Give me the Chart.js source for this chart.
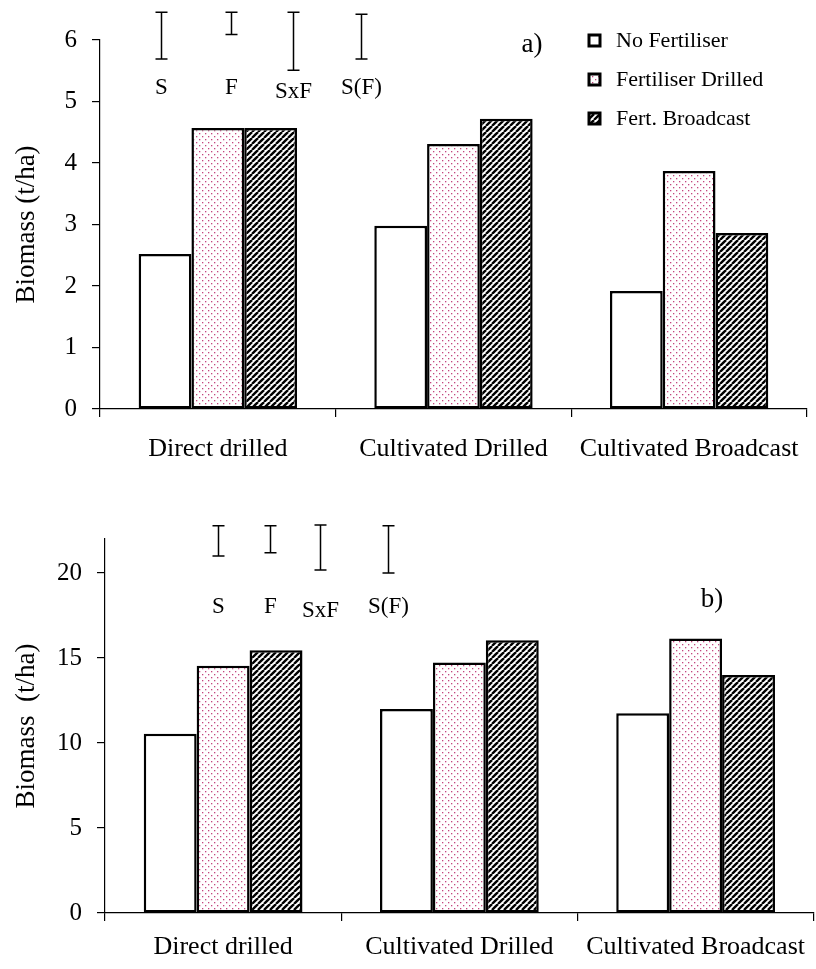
<!DOCTYPE html>
<html><head><meta charset="utf-8">
<script src="https://cdn.jsdelivr.net/npm/chart.js@4.4.1/dist/chart.umd.min.js"></script>
<style>
html,body{margin:0;padding:0;background:#fff;}
#wrap{position:relative;width:816px;height:969px;background:#fff;}
canvas{position:absolute;left:0;}
#c1{top:0;} #c2{top:490px;}
</style></head><body>
<div id="wrap"><canvas id="c1" width="816" height="490"></canvas><canvas id="c2" width="816" height="479"></canvas></div>
<script>
const categories = ['Direct drilled', 'Cultivated Drilled', 'Cultivated Broadcast'];
const seriesNames = ['No Fertiliser', 'Fertiliser Drilled', 'Fert. Broadcast'];
const biomassA_noFert = [2.52, 2.98, 1.92];
const biomassA_fertDrilled = [4.57, 4.31, 3.87];
const biomassA_fertBroadcast = [4.57, 4.72, 2.86];
const biomassB_noFert = [10.55, 12.0, 11.75];
const biomassB_fertDrilled = [14.55, 14.73, 16.15];
const biomassB_fertBroadcast = [15.45, 16.05, 14.0];
const errLabels = ['S', 'F', 'SxF', 'S(F)'];
const errA_high = [6.45, 6.45, 6.45, 6.42];
const errA_low = [5.69, 6.09, 5.51, 5.69];
const errB_high = [22.78, 22.78, 22.83, 22.78];
const errB_low = [21.0, 21.19, 20.17, 20.0];
const ticksA = [0, 1, 2, 3, 4, 5, 6];
const ticksB = [0, 5, 10, 15, 20];

const SERIF = "'Liberation Serif', 'Times New Roman', serif";

function dotPattern() {
  const c = document.createElement('canvas'); c.width = 6; c.height = 6;
  const g = c.getContext('2d');
  g.fillStyle = '#fff'; g.fillRect(0, 0, 6, 6);
  g.fillStyle = '#c4477f';
  g.fillRect(1, 1, 1.3, 1.3); g.fillRect(4, 4, 1.3, 1.3);
  return g.createPattern(c, 'repeat');
}
function hatchPattern() {
  const c = document.createElement('canvas'); c.width = 6; c.height = 6;
  const g = c.getContext('2d');
  g.fillStyle = '#fff'; g.fillRect(0, 0, 6, 6);
  g.strokeStyle = '#000'; g.lineWidth = 2.4;
  for (let k = -6; k <= 12; k += 6) { g.beginPath(); g.moveTo(k, 6); g.lineTo(k + 6, 0); g.stroke(); }
  return g.createPattern(c, 'repeat');
}
const fills = ['#ffffff', dotPattern(), hatchPattern()];

const errPlugin = {
  id: 'errbars',
  afterDraw(chart, args, o) {
    if (!o || !o.high) return;
    const ctx = chart.ctx, x = chart.scales.x, y = chart.scales.y;
    ctx.save();
    ctx.strokeStyle = '#000'; ctx.lineWidth = 1.5; ctx.fillStyle = '#000';
    o.high.forEach((h, i) => {
      const px = Math.round(x.getPixelForValue(o.pos[i])) + 0.5;
      const y1 = y.getPixelForValue(h), y2 = y.getPixelForValue(o.low[i]);
      ctx.beginPath();
      ctx.moveTo(px, y1); ctx.lineTo(px, y2);
      ctx.moveTo(px - 6, y1); ctx.lineTo(px + 6, y1);
      ctx.moveTo(px - 6, y2); ctx.lineTo(px + 6, y2);
      ctx.stroke();
      ctx.font = '23px ' + SERIF; ctx.textAlign = 'center'; ctx.textBaseline = 'middle';
      ctx.fillText(o.labels[i], px, y.getPixelForValue(o.labelValue) + (o.labels[i] === 'SxF' ? 4 : 0));
    });
    if (o.tag) {
      ctx.font = '27px ' + SERIF; ctx.textAlign = 'center'; ctx.textBaseline = 'middle';
      ctx.fillText(o.tag.text, o.tag.x, o.tag.y);
    }
    if (o.legend) {
      chart.data.datasets.forEach((ds, i) => {
        const cy = o.legend.y0 + i * o.legend.dy;
        ctx.fillStyle = ds.backgroundColor;
        ctx.fillRect(o.legend.x, cy - 5, 11, 11);
        ctx.lineWidth = 3; ctx.strokeStyle = '#000';
        ctx.strokeRect(o.legend.x, cy - 5, 11, 11);
        ctx.fillStyle = '#000'; ctx.font = '22px ' + SERIF;
        ctx.textAlign = 'left'; ctx.textBaseline = 'middle';
        ctx.fillText(ds.label, o.legend.x + 27, cy + 1);
      });
    }
    ctx.restore();
  }
};

function makeChart(id, vals, yTicks, yMax, yTitle, opts) {
  return new Chart(document.getElementById(id), {
    type: 'bar',
    plugins: [errPlugin],
    data: {
      labels: categories,
      datasets: vals.map((v, i) => ({
        label: seriesNames[i], data: v,
        backgroundColor: fills[i], borderColor: '#000', borderWidth: 2.5,
        borderSkipped: false,
        categoryPercentage: 0.672, barPercentage: 1
      }))
    },
    options: {
      responsive: false, animation: false, devicePixelRatio: 1,
      layout: { padding: opts.padding },
      plugins: { legend: { display: false }, tooltip: { enabled: false }, errbars: opts.err },
      scales: {
        x: {
          grid: { display: true, drawOnChartArea: false, offset: true, tickLength: 8, color: '#000', lineWidth: 1.2 },
          border: { display: true, color: '#000', width: 1.2 },
          ticks: { color: '#000', font: { family: SERIF, size: 26 }, padding: opts.xPad, maxRotation: 0, autoSkip: false },
          afterFit(s) { s.height = opts.xHeight; }
        },
        y: {
          min: 0, max: yMax,
          afterBuildTicks(s) { s.ticks = yTicks.map(v => ({ value: v })); },
          grid: { display: true, drawOnChartArea: false, tickLength: 8, color: '#000', lineWidth: 1.2 },
          border: { display: true, color: '#000', width: 1.2 },
          ticks: { color: '#000', font: { family: SERIF, size: 25 }, padding: 15 },
          title: { display: true, text: yTitle, color: '#000', font: { family: SERIF, size: 27 }, padding: { top: 11, bottom: 0 } },
          afterFit(s) { s.width = opts.yWidth; }
        }
      }
    }
  });
}

makeChart('c1', [biomassA_noFert, biomassA_fertDrilled, biomassA_fertBroadcast], ticksA, 6, 'Biomass (t/ha)', {
  padding: { top: 40, right: 3, left: 0, bottom: 0 }, xHeight: 81, yWidth: 100, xPad: 17,
  err: { high: errA_high, low: errA_low, labels: errLabels, pos: [-0.241, 0.055, 0.317, 0.609], labelValue: 5.22,
         tag: { text: 'a)', x: 532, y: 45 }, legend: { x: 589, y0: 40, dy: 39 } }
});
makeChart('c2', [biomassB_noFert, biomassB_fertDrilled, biomassB_fertBroadcast], ticksB, 22, 'Biomass  (t/ha)', {
  padding: { top: 49, right: 0, left: 0, bottom: 0 }, xHeight: 56, yWidth: 105, xPad: 11,
  err: { high: errB_high, low: errB_low, labels: errLabels, pos: [-0.023, 0.2, 0.41, 0.70], labelValue: 18.0,
         tag: { text: 'b)', x: 712, y: 110 } }
});
</script>
</body></html>
